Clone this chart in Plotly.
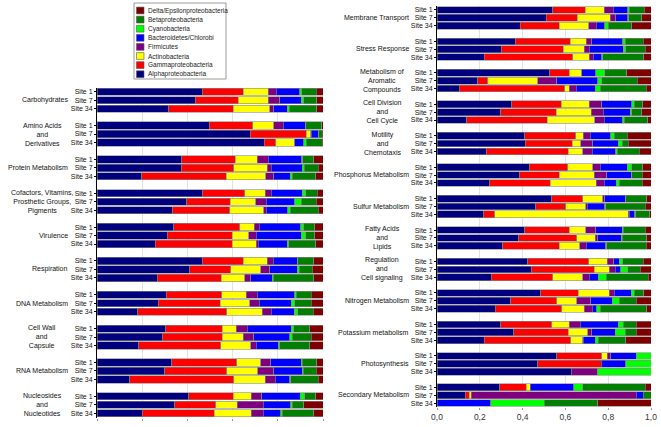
import plotly.graph_objects as go

# ---------------- data ----------------
sites = ["Site 1", "Site 7", "Site 34"]

groups_left = [
    "Carbohydrates", "Amino Acids<br>and<br>Derivatives", "Protein Metabolism",
    "Cofactors, Vitamins,<br>Prosthetic Groups,<br>Pigments", "Virulence", "Respiration",
    "DNA Metabolism", "Cell Wall<br>and<br>Capsule", "RNA Metabolism",
    "Nucleosides<br>and<br>Nucleotides",
]
groups_right = [
    "Membrane Transport", "Stress Response", "Metabolism of<br>Aromatic<br>Compounds",
    "Cell Division<br>and<br>Cell Cycle", "Motility<br>and<br>Chemotaxis",
    "Phosphorus Metabolism", "Sulfur Metabolism", "Fatty Acids<br>and<br>Lipids",
    "Regulation<br>and<br>Cell signaling", "Nitrogen Metabolism", "Potassium metabolism",
    "Photosynthesis", "Secondary Metabolism",
]

series_names = ["Alphaproteobacteria", "Gammaproteobacteria", "Actinobacteria", "Firmicutes",
                "Bacteroidetes/Chlorobi", "Cyanobacteria", "Betaproteobacteria",
                "Delta/Epsilonproteobacteria"]
series_colors = ["#00007f", "#ff0000", "#ffff00", "#7f007f", "#0000ff", "#00ff00", "#007f00", "#7f0000"]

# left panel (group order, Site 1 / 7 / 34 within each group)
alpha_left = [.466, .435, .317, .496, .678, .739, .375, .372, .199, .466, .398, .332, .339, .311, .258,
              .466, .410, .267, .307, .271, .181, .304, .288, .184, .330, .299, .145, .406, .345, .201]
gamma_left = [.180, .189, .285, .194, .248, .052, .237, .233, .373, .187, .192, .255, .292, .288, .341,
              .180, .181, .283, .245, .275, .394, .251, .267, .363, .289, .276, .460, .196, .180, .317]
actino_left = [.111, .133, .162, .093, .019, .081, .098, .149, .174, .092, .112, .150, .064, .072, .106,
               .108, .133, .103, .109, .130, .157, .062, .091, .133, .105, .137, .140, .081, .096, .165]
firm_left = [.037, .051, .018, .040, .003, .003, .047, .017, .036, .026, .047, .012, .022, .034, .009,
             .025, .040, .027, .047, .041, .039, .047, .047, .025, .044, .071, .044, .047, .114, .052]
bact_left = [.103, .096, .059, .100, .030, .039, .150, .138, .073, .138, .126, .096, .184, .199, .128,
             .106, .121, .096, .167, .143, .101, .196, .160, .097, .136, .126, .064, .170, .122, .078]
cyano_left = [.009, .010, .009, .000, .004, .012, .003, .007, .008, .014, .029, .010, .013, .019, .006,
              .004, .009, .003, .007, .016, .017, .010, .011, .006, .005, .003, .004, .019, .007, .007]
beta_left = [.065, .059, .123, .072, .014, .071, .050, .062, .105, .052, .067, .123, .049, .040, .120,
             .071, .059, .181, .067, .073, .067, .071, .084, .133, .064, .059, .121, .049, .050, .139]
delta_left = [.029, .027, .027, .005, .004, .003, .040, .022, .032, .025, .029, .022, .037, .037, .032,
              .040, .047, .040, .051, .051, .044, .059, .052, .059, .027, .029, .022, .032, .086, .041]

# right panel
alpha_right = [.541, .510, .389, .365, .300, .221, .526, .190, .104, .350, .299, .140, .409, .412, .229,
               .432, .384, .244, .537, .462, .218, .409, .381, .308, .423, .440, .253, .485, .345, .272,
               .299, .358, .221, .560, .471, .627, .293, .132, 0]
gamma_right = [.151, .146, .182, .257, .291, .414, .093, .046, .492, .230, .258, .376, .240, .221, .385,
               .178, .188, .285, .143, .140, .051, .208, .272, .264, .285, .294, .287, .176, .215, .311,
               .238, .256, .404, .211, .296, 0, .123, .019, 0]
actino_right = [.090, .153, .137, .075, .096, .077, .058, .234, .023, .132, .163, .220, .035, .039, .066,
                .118, .162, .214, .094, .093, .625, .078, .086, .094, .088, .072, .140, .145, .093, .106,
                .082, .091, .056, .025, 0, 0, .020, .008, 0]
firm_right = [.042, .026, .035, .026, .025, .019, 0, .090, .031, .058, .058, .045, .031, .056, .046,
              .034, .059, .038, .011, .008, .005, .047, .012, .031, .031, .026, .031, .023, .066, .037,
              .050, .018, .003, .017, 0, .123, 0, .772, 0]
bact_right = [.067, .056, .042, .145, .159, .039, .065, .191, .089, .140, .124, .087, .098, .120, .109,
              .128, .114, .056, .094, .082, .026, .124, .109, .091, .024, .026, .043, .078, .101, .021,
              .179, .109, .055, .117, .116, 0, .203, .032, .25]
cyano_right = [.008, .005, .016, .011, .012, .004, .043, .020, .023, .011, .008, .006, .016, .018, .008,
               .020, .003, .015, .003, .003, .003, .005, .006, .005, .017, .033, .036, .014, .032, .015,
               .023, .047, .015, .070, .117, .250, .043, 0, .25]
beta_right = [.070, .060, .109, .085, .089, .193, .101, .165, .215, .040, .046, .110, .061, .028, .101,
              .051, .050, .108, .098, .184, .067, .101, .114, .184, .096, .058, .198, .046, .078, .218,
              .059, .051, .129, 0, 0, 0, .292, .037, .25]
delta_right = [.031, .044, .090, .036, .028, .033, .114, .064, .023, .039, .044, .016, .110, .106, .056,
               .039, .040, .040, .020, .028, .005, .028, .020, .023, .036, .051, .012, .033, .070, .020,
               .070, .070, .117, 0, 0, 0, .026, 0, .25]

x_ticks = [0.0, 0.2, 0.4, 0.6, 0.8, 1.0]

left_values = [alpha_left, gamma_left, actino_left, firm_left, bact_left, cyano_left, beta_left, delta_left]
right_values = [alpha_right, gamma_right, actino_right, firm_right, bact_right, cyano_right, beta_right, delta_right]

# ---------------- figure ----------------
W, H = 661, 427
FONT = "Liberation Sans, Arial, sans-serif"
FS = 7


def build_categories(groups):
    cats, bars = [], []
    for gi in range(len(groups)):
        if gi > 0:
            cats.append(f"gap{gi}")
        for s in sites:
            cats.append(f"{gi}|{s}")
            bars.append(f"{gi}|{s}")
    return cats, bars


cats_l, bars_l = build_categories(groups_left)
cats_r, bars_r = build_categories(groups_right)

fig = go.Figure()
for name, color, lv, rv in zip(series_names, series_colors, left_values, right_values):
    for vals, ycats, xa, ya in ((lv, bars_l, "x", "y"), (rv, bars_r, "x2", "y2")):
        fig.add_trace(go.Bar(
            x=vals, y=ycats, orientation="h", name=name, xaxis=xa, yaxis=ya,
            marker=dict(color=color, line=dict(color="#8a8a8a", width=0.6)),
            showlegend=False,
        ))


def px_x(p):
    return p / W


def px_y(p):
    return 1 - p / H


yaxis_common = dict(
    type="category", categoryorder="array", tickmode="array", automargin=False,
    ticks="outside", ticklen=2, tickcolor="#000", showline=True, linecolor="#000", linewidth=1,
    showgrid=False, zeroline=False, tickfont=dict(size=FS, color="#111", family=FONT),
)
xaxis_common = dict(
    range=[0, 1], tickmode="array", tickvals=x_ticks, tickformat=".1f", automargin=False,
    showgrid=True, gridcolor="#e2e2e2", gridwidth=1, zeroline=False, showline=False,
    tickfont=dict(size=8.5, color="#333", family=FONT), ticks="outside", ticklen=2, tickcolor="#999",
)

fig.update_layout(
    width=W, height=H, margin=dict(l=0, r=0, t=0, b=0, autoexpand=False),
    paper_bgcolor="white", plot_bgcolor="white",
    barmode="stack", bargap=0.14, separators=", ",
    font=dict(family=FONT, size=FS, color="#111"),
    showlegend=False,
    xaxis=dict(domain=[px_x(97), px_x(323)], anchor="y", showticklabels=False, **xaxis_common),
    yaxis=dict(domain=[px_y(417.5), px_y(87.5)], anchor="x", categoryarray=cats_l,
               range=[len(cats_l) - 0.5, -0.5], tickvals=bars_l,
               ticktext=[b.split("|")[1] for b in bars_l], **yaxis_common),
    xaxis2=dict(domain=[px_x(437), px_x(651)], anchor="y2", showticklabels=True, **xaxis_common),
    yaxis2=dict(domain=[px_y(407), px_y(6)], anchor="x2", categoryarray=cats_r,
                range=[len(cats_r) - 0.5, -0.5], tickvals=bars_r,
                ticktext=[b.split("|")[1] for b in bars_r], **yaxis_common),
)

# group labels
annotations = []
for groups, cats, yref, right_px, center_px in ((groups_left, cats_l, "y", 70, 42),
                                                (groups_right, cats_r, "y2", 411, 382)):
    for gi, g in enumerate(groups):
        yidx = cats.index(f"{gi}|Site 7")
        multi = "<br>" in g
        annotations.append(dict(
            text=g, xref="paper", yref=yref, y=yidx,
            x=px_x(center_px if multi else right_px),
            xanchor="center" if multi else "right", yanchor="middle", align="center",
            showarrow=False, font=dict(size=FS, color="#111", family=FONT),
        ))

# compact legend box (reversed order, Delta on top)
shapes = [dict(type="rect", xref="paper", yref="paper",
               x0=px_x(134), x1=px_x(226), y0=px_y(79), y1=px_y(3),
               line=dict(color="#9a9a9a", width=1), fillcolor="white", layer="above")]
leg_items = list(zip(series_names, series_colors))[::-1]
for i, (name, color) in enumerate(leg_items):
    cy = 10.5 + i * 9.1
    shapes.append(dict(type="rect", xref="paper", yref="paper",
                       x0=px_x(136.5), x1=px_x(144), y0=px_y(cy + 3.4), y1=px_y(cy - 3.4),
                       fillcolor=color, line=dict(color="#555", width=0.6), layer="above"))
    annotations.append(dict(text=name, xref="paper", yref="paper", x=px_x(146), y=px_y(cy),
                            xanchor="left", yanchor="middle", showarrow=False,
                            font=dict(size=6.5, color="#222", family=FONT)))

fig.update_layout(annotations=annotations, shapes=shapes)
# the page body has a default 8px margin; remove it so the figure fills the window
fig.write_html("out.html", config={"displayModeBar": False},
               post_script="document.body.style.margin='0px';")
